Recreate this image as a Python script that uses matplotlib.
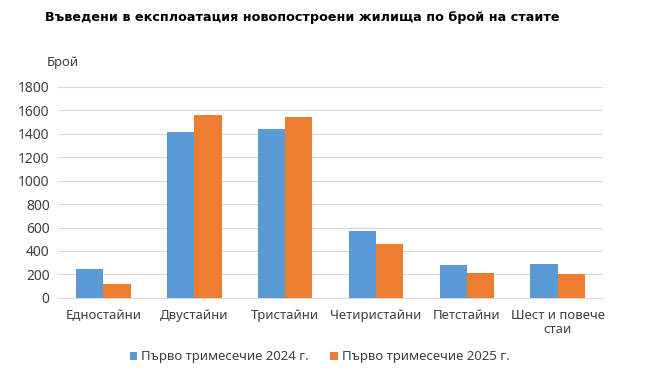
import matplotlib
matplotlib.use("Agg")
import matplotlib.pyplot as plt
import numpy as np

categories = ["Едностайни", "Двустайни", "Тристайни", "Четиристайни", "Петстайни", "Шест и повече\nстаи"]
q1_2024 = [250, 1413, 1438, 573, 282, 290]
q1_2025 = [120, 1558, 1541, 456, 214, 202]
series_names = ["Първо тримесечие 2024 г.", "Първо тримесечие 2025 г."]

plt.rcParams['font.family'] = ['Noto Sans', 'DejaVu Sans']

fig = plt.figure(figsize=(6.45, 3.7), dpi=100)
ax = fig.add_axes([0.09, 0.195, 0.845, 0.57])

x = np.arange(len(categories))
w = 0.3
ax.bar(x - w / 2, q1_2024, w, color="#5B9BD5", label=series_names[0], zorder=3)
ax.bar(x + w / 2, q1_2025, w, color="#ED7D31", label=series_names[1], zorder=3)

ax.set_xlim(-0.5, len(categories) - 0.5)
ax.set_ylim(0, 1800)
ax.set_yticks(range(0, 1801, 200))
ax.yaxis.grid(True, color="#D9D9D9", linewidth=0.8, zorder=0)
ax.set_xticks(x)
ax.set_xticklabels(categories, fontsize=9.5, color="#404040", linespacing=1.1)
ax.tick_params(axis="y", labelsize=10, labelcolor="#404040", length=0, pad=6)
ax.tick_params(axis="x", length=0, pad=8)
for s in ["top", "right", "left"]:
    ax.spines[s].set_visible(False)
ax.spines["bottom"].set_color("#D9D9D9")

fig.text(0.07, 0.953, "Въведени в експлоатация новопостроени жилища по брой на стаите",
         fontsize=9.2, fontweight="bold", family="DejaVu Sans", va="center")
fig.text(0.073, 0.83, "Брой", fontsize=9.5, color="#404040", va="center")

ax.legend(loc="center", bbox_to_anchor=(0.48, -0.28), ncol=2, frameon=False,
          fontsize=9.5, handlelength=0.6, handleheight=0.6, handletextpad=0.3,
          columnspacing=1.6, labelcolor="#404040")

fig.savefig("out.png", dpi=100)
